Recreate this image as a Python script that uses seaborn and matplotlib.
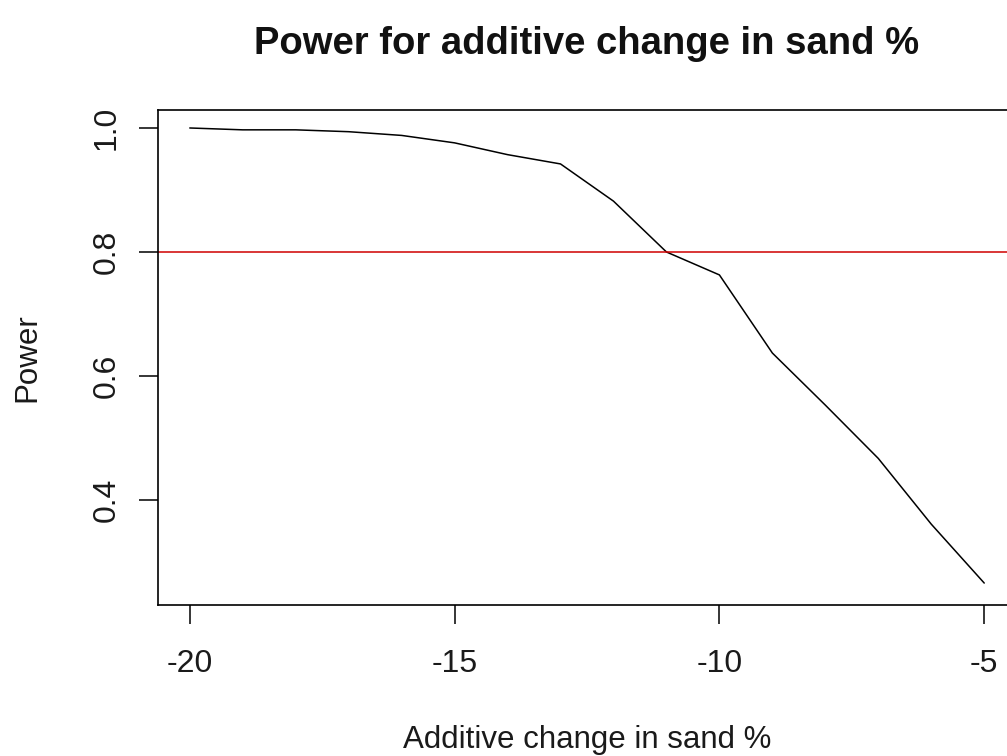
import numpy as np
import pandas as pd
import matplotlib
matplotlib.use("Agg")
import matplotlib.pyplot as plt
import seaborn as sns

# values
change = [-20, -19, -18, -17, -16, -15, -14, -13, -12, -11, -10, -9, -8, -7, -6, -5]
power = [1.000, 0.997, 0.997, 0.994, 0.988, 0.976, 0.957, 0.942, 0.882, 0.800,
         0.763, 0.637, 0.553, 0.467, 0.361, 0.266]
target = 0.8
x_ticks = [-20, -15, -10, -5]
y_ticks = [0.4, 0.6, 0.8, 1.0]

df = pd.DataFrame({'change': change, 'power': power})

sns.set_style("ticks")
plt.rcParams['font.family'] = ['Liberation Sans', 'DejaVu Sans']

fig = plt.figure(figsize=(10.07, 7.56), dpi=100)
# axes box runs slightly past the right edge, like the cropped original
ax = fig.add_axes([158 / 1007, 1 - 605 / 756, (1016 - 158) / 1007, (605 - 110) / 756])

sns.lineplot(data=df, x='change', y='power', color='black', linewidth=1.1, ax=ax)
ax.axhline(target, color='#d00000', linewidth=1.1)

ax.set_xlim(-20.6, -4.4)
ax.set_ylim(0.2306, 1.029)
ax.set_xticks(x_ticks)
ax.set_xticklabels([str(v) for v in x_ticks])
ax.set_yticks(y_ticks)
ax.set_yticklabels([f"{v:.1f}" for v in y_ticks], rotation=90, va='center')

for s in ax.spines.values():
    s.set_visible(True)
    s.set_color('black')
    s.set_linewidth(1.2)

ax.tick_params(axis='both', direction='out', length=14, width=1.1, color='black',
               labelsize=23, labelcolor='#1a1a1a')
ax.tick_params(axis='x', pad=18)
ax.tick_params(axis='y', pad=12)

ax.set_xlabel('Additive change in sand %', fontsize=22.5, color='#1a1a1a', labelpad=33)
ax.set_ylabel('Power', fontsize=22.5, color='#1a1a1a', labelpad=36)
ax.set_title('Power for additive change in sand %', fontsize=27.5, fontweight='bold',
             color='#111111', pad=40)

plt.savefig('out.png', dpi=100)
print("Script Completed")
